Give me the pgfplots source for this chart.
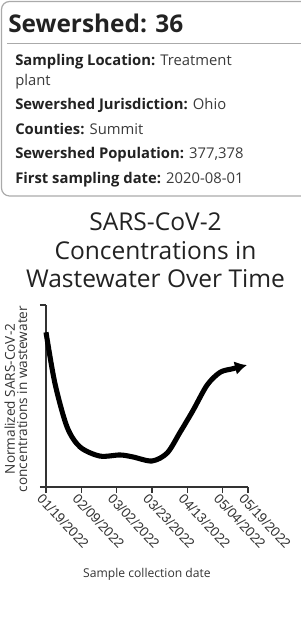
\documentclass[border=0pt]{standalone}
\usepackage{pgfplots}
\pgfplotsset{compat=1.18}
\usepackage{fontspec}
\setmainfont{Open Sans}
\newfontfamily\arialfont{Liberation Sans}
\usetikzlibrary{arrows.meta}
\definecolor{txt}{HTML}{222222}
\definecolor{val}{HTML}{3A3A3A}
\definecolor{axc}{HTML}{333333}
\definecolor{bord}{HTML}{AAAAAA}
\begin{document}
\begin{tikzpicture}
\useasboundingbox (0,0) rectangle (225pt,480.75pt);
\begin{scope}[x=0.75pt,y=-0.75pt,yshift=480.75pt]
\draw[bord,line width=0.9pt,rounded corners=6pt] (1.5,1.5) rectangle (320,196);
\draw[bord,line width=1.2pt] (7,43.5) -- (320,43.5);
\node[anchor=base west,inner sep=0pt,font=\fontsize{18.3pt}{20pt}\selectfont\bfseries,text=txt] at (8,33) {Sewershed: 36};
\begin{scope}[every node/.style={anchor=base west,inner sep=0pt,font=\fontsize{11.1pt}{14pt}\selectfont}]
\node at (15,65.5) {\textcolor{txt}{\bfseries Sampling Location:} \textcolor{val}{Treatment}};
\node at (15,85.5) {\textcolor{val}{plant}};
\node at (15,110) {\textcolor{txt}{\bfseries Sewershed Jurisdiction:} \textcolor{val}{Ohio}};
\node at (15,134.5) {\textcolor{txt}{\bfseries Counties:} \textcolor{val}{Summit}};
\node at (15,159) {\textcolor{txt}{\bfseries Sewershed Population:} \textcolor{val}{377,378}};
\node at (15,184) {\textcolor{txt}{\bfseries First sampling date:} \textcolor{val}{2020-08-01}};
\end{scope}
\begin{scope}[every node/.style={anchor=base,inner sep=0pt,font=\fontsize{18.4pt}{20pt}\selectfont,text=txt}]
\node at (155.5,231) {SARS-CoV-2};
\node at (155.5,259.5) {Concentrations in};
\node at (155.5,288) {Wastewater Over Time};
\end{scope}
\node[rotate=90,anchor=center,align=center,inner sep=0pt,font=\fontsize{10.2pt}{9.2pt}\selectfont,text=axc] at (16,399) {Normalized SARS-CoV-2\\concentrations in wastewater};
\node[anchor=base,inner sep=0pt,font=\fontsize{9.1pt}{10pt}\selectfont,text=axc] at (147,578) {Sample collection date};
\end{scope}
\begin{axis}[
  at={(34.5pt,115.5pt)}, anchor=origin,
  scale only axis, width=151.5pt, height=136.5pt,
  xmin=0, xmax=120, ymin=0, ymax=1,
  axis lines*=left,
  axis line style={axc,line width=0.9pt},
  tick style={axc,line width=0.9pt},
  tick align=outside, major tick length=4.5pt,
  xtick={0,21,42,63,84,105,120},
  xticklabels={01/19/2022,02/09/2022,03/02/2022,03/23/2022,04/13/2022,05/04/2022,05/19/2022},
  xticklabel style={rotate=-47,anchor=north west,inner sep=0pt,xshift=-1.5pt,yshift=-1pt,font=\arialfont\fontsize{10.2pt}{11pt}\selectfont,text=axc},
  ytick={0,1}, yticklabels={},
  clip=false,
]
\addplot[black,line width=3.8pt,smooth,-{Latex[length=9pt,width=10.5pt]}] coordinates {
(0,0.85) (5.3,0.57) (12.5,0.33) (20.2,0.22) (32,0.17) (44,0.176) (51.7,0.165) (63,0.143) (72,0.187) (79.6,0.30) (87.3,0.42) (95.7,0.56) (103.4,0.63) (111,0.65) (119.4,0.67)
};
\end{axis}
\end{tikzpicture}
\end{document}
